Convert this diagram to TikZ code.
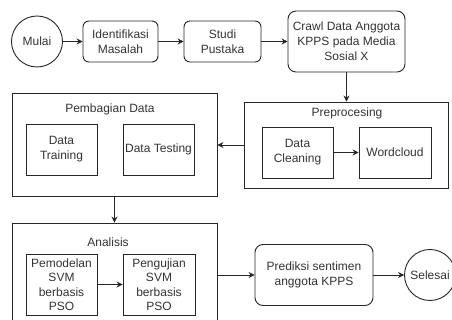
\documentclass[tikz,border=0pt]{standalone}
\usepackage{fontspec}
\setmainfont{Liberation Sans}
\usetikzlibrary{arrows.meta}
\begin{document}
\begin{tikzpicture}[x=1pt,y=-1pt,
  every node/.style={font=\fontsize{12}{15}\selectfont, text=black!80},
  box/.style={draw=black!85, line width=0.9pt, inner sep=0pt, align=center},
  rbox/.style={box, rounded corners=6pt},
  circ/.style={draw=black!85, line width=0.9pt, circle, inner sep=0pt, minimum size=51pt},
  arr/.style={-{Stealth[length=6pt,width=6pt]}, line width=0.9pt, draw=black!85},
  ttl/.style={inner sep=0pt}
]
\useasboundingbox (0,0) rectangle (452,320);
\clip (0,0) rectangle (452,320);

% top row
\node[circ] (mulai) at (37,41.5) {Mulai};
\node[rbox, minimum width=75pt, minimum height=41pt] (ident) at (120.5,41.5) {Identifikasi\\Masalah};
\node[rbox, minimum width=77pt, minimum height=41pt] (studi) at (222.5,41.5) {Studi\\Pustaka};
\node[rbox, rounded corners=8pt, minimum width=117pt, minimum height=61pt] (crawl) at (346.5,41.5) {Crawl Data Anggota\\KPPS pada Media\\Sosial X};

% preprocessing group
\node[box, minimum width=204pt, minimum height=86pt] (pre) at (346,145) {};
\node[ttl] (pretitle) at (347,113) {Preprocesing};
\node[box, minimum width=71pt, minimum height=51pt] (clean) at (297.5,152.5) {Data\\Cleaning};
\node[box, minimum width=72pt, minimum height=51pt] (word) at (395,152.5) {Wordcloud};

% pembagian group
\node[box, minimum width=205pt, minimum height=103pt] (pemb) at (114.5,145) {};
\node[ttl] (pembtitle) at (110,109) {Pembagian Data};
\node[box, minimum width=71pt, minimum height=51pt] (train) at (61.5,149.5) {Data\\Training};
\node[box, minimum width=71pt, minimum height=51pt] (test) at (158.5,149.5) {Data Testing};

% analisis group
\node[box, minimum width=205pt, minimum height=104pt] (ana) at (114.5,275) {};
\node[ttl] (anatitle) at (108,242) {Analisis};
\node[box, minimum width=71pt, minimum height=61pt, font=\fontsize{12}{14.5}\selectfont] (pemo) at (61.5,284.5) {Pemodelan\\SVM\\berbasis\\PSO};
\node[box, minimum width=72pt, minimum height=61pt, font=\fontsize{12}{14.5}\selectfont] (peng) at (159,284.5) {Pengujian\\SVM\\berbasis\\PSO};

% end
\node[rbox, rounded corners=8pt, minimum width=118pt, minimum height=61pt] (pred) at (314,275) {Prediksi sentimen\\anggota KPPS};
\node[circ] (sel) at (430,275) {Selesai};

% connectors
\draw[arr] (mulai) -- (ident);
\draw[arr] (ident) -- (studi);
\draw[arr] (studi) -- (crawl);
\draw[arr] (crawl.south) -- (crawl.south |- pre.north);
\draw[arr] (pre.west) -- (pre.west -| pemb.east);
\draw[arr] (clean) -- (word);
\draw[arr] (pemb) -- (ana);
\draw[arr] (pemo) -- (peng);
\draw[arr] (ana) -- (pred);
\draw[arr] (pred) -- (sel);
\end{tikzpicture}
\end{document}
